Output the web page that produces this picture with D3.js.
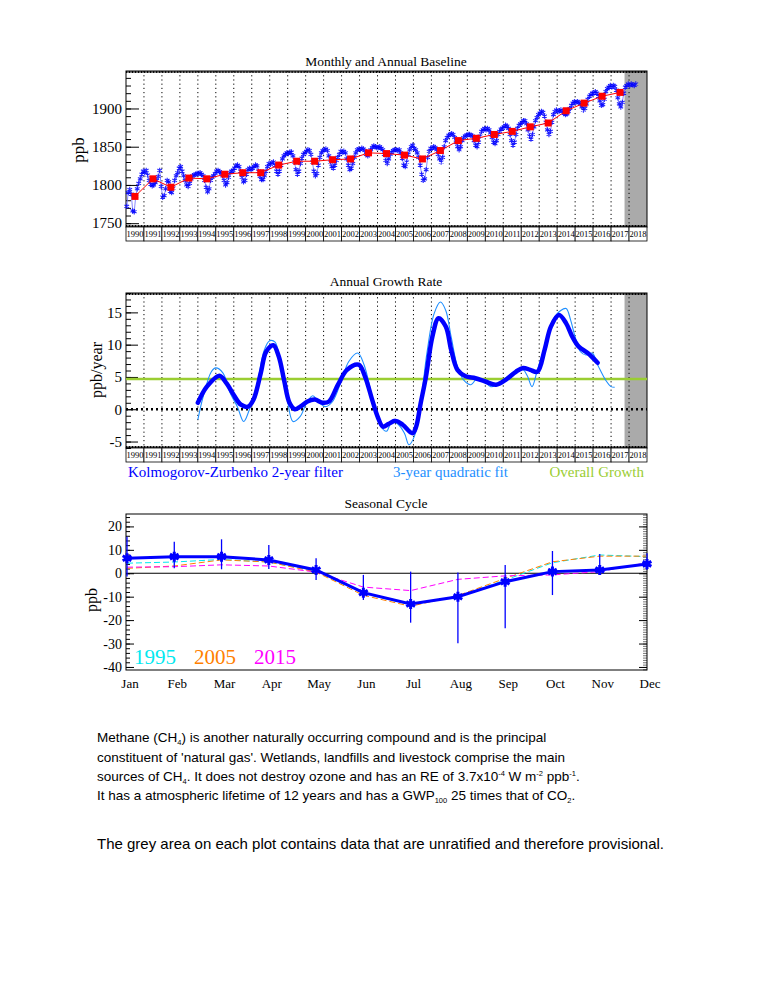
<!doctype html>
<html>
<head>
<meta charset="utf-8">
<script src="https://d3js.org/d3.v7.min.js"></script>
<style>
  body { margin: 0; background: #fff; }
  text { font-family: "Liberation Serif", "Times New Roman", serif; }
  .para { font-family: "Liberation Sans", Arial, sans-serif; }
</style>
</head>
<body>
<svg width="765" height="990"></svg>
<script>
// ---- data ----
const yearLabels = ["1990","1991","1992","1993","1994","1995","1996","1997","1998","1999","2000","2001","2002","2003","2004",
                    "2005","2006","2007","2008","2009","2010","2011","2012","2013","2014","2015","2016","2017","2018"];
const firstYear = 1990;
const provisionalFrom = 2017.75;

// monthly baseline (ppb), one row per year starting 1990
const monthly = [
  [1772,1790,1794,1788,1766,1765,1785,1795,1802,1808,1814,1818],
  [1816,1819,1813,1806,1801,1799,1800,1803,1806,1811,1819,1798],
  [1784,1786,1795,1806,1804,1792,1790,1796,1806,1812,1816,1822],
  [1824,1818,1812,1806,1800,1798,1802,1808,1812,1813,1814,1815],
  [1815,1816,1814,1812,1806,1797,1791,1795,1806,1810,1812,1815],
  [1818,1819,1817,1816,1812,1806,1800,1803,1810,1816,1818,1819],
  [1822,1825,1826,1824,1818,1810,1804,1806,1814,1820,1822,1820],
  [1822,1824,1826,1825,1818,1811,1807,1807,1812,1818,1824,1828],
  [1827,1829,1830,1826,1818,1814,1818,1826,1834,1838,1840,1842],
  [1841,1843,1843,1838,1830,1820,1814,1818,1828,1835,1840,1842],
  [1844,1846,1845,1840,1830,1818,1812,1815,1826,1836,1842,1845],
  [1846,1847,1845,1838,1830,1824,1822,1826,1832,1836,1840,1844],
  [1843,1844,1842,1834,1826,1820,1822,1828,1836,1842,1846,1847],
  [1846,1848,1847,1845,1840,1838,1842,1846,1849,1851,1850,1849],
  [1849,1850,1848,1846,1840,1832,1828,1834,1840,1843,1845,1846],
  [1846,1845,1846,1842,1835,1826,1824,1830,1840,1846,1850,1852],
  [1848,1846,1842,1836,1826,1814,1806,1808,1820,1836,1844,1848],
  [1848,1850,1849,1846,1840,1834,1830,1836,1850,1858,1862,1865],
  [1866,1867,1866,1862,1856,1850,1846,1850,1858,1862,1864,1865],
  [1866,1866,1865,1864,1858,1852,1850,1856,1864,1870,1872,1874],
  [1872,1874,1872,1868,1862,1856,1854,1858,1866,1870,1873,1874],
  [1876,1878,1877,1874,1866,1858,1852,1856,1866,1874,1878,1880],
  [1882,1884,1884,1880,1872,1864,1860,1866,1876,1884,1888,1892],
  [1894,1896,1895,1890,1882,1872,1866,1870,1882,1892,1896,1898],
  [1896,1897,1898,1896,1894,1892,1893,1896,1900,1904,1907,1909],
  [1908,1909,1908,1906,1902,1898,1900,1906,1912,1916,1918,1920],
  [1920,1922,1920,1916,1910,1904,1905,1912,1922,1926,1928,1930],
  [1928,1930,1929,1924,1914,1906,1902,1908,1920,1928,1930,1932],
  [1930,1932,1931,1930,1932]
];

// annual baseline means (ppb), 1990..2017, plotted mid-year
const annualMean = [1785,1808,1797,1809,1808,1814,1816,1816,1826,1831,1831,1833,1834,1842,
                    1841,1839,1834,1845,1858,1861,1866,1870,1876,1881,1897,1907,1916,1921];

// growth rate (ppb/yr): [decimal year, value]
const kzFilter = [
  [1994.0,1.0],[1994.5,3.5],[1995.2,5.2],[1995.6,4.0],[1996.0,2.2],[1996.4,0.7],[1996.8,0.4],[1997.1,1.5],
  [1997.5,5.6],[1997.8,8.9],[1998.2,9.9],[1998.5,8.2],[1998.8,4.5],[1999.1,1.0],[1999.4,0.0],[1999.7,0.4],
  [2000.1,1.2],[2000.5,1.5],[2000.95,1.0],[2001.3,1.2],[2001.8,3.8],[2002.3,6.1],[2002.95,6.9],[2003.3,5.1],
  [2003.7,1.5],[2004.0,-1.1],[2004.3,-2.7],[2004.6,-2.3],[2005.0,-1.8],[2005.4,-2.4],[2005.95,-3.7],
  [2006.15,-2.7],[2006.4,0.9],[2006.7,5.1],[2007.05,11.2],[2007.4,14.1],[2007.8,12.8],[2008.1,9.2],
  [2008.45,6.1],[2008.9,5.1],[2009.45,4.8],[2010.0,4.3],[2010.6,3.8],[2011.15,4.6],[2011.7,5.8],
  [2012.1,6.4],[2012.5,6.1],[2012.9,5.8],[2013.3,9.2],[2013.65,12.8],[2014.1,14.6],[2014.5,13.3],
  [2014.85,11.2],[2015.2,9.7],[2015.7,8.7],[2016.25,7.2]
];
const quadFit = [
  [1994.0,-1.6],[1994.3,2.0],[1994.75,5.8],[1995.0,6.4],[1995.4,5.6],[1995.8,2.5],[1996.2,0.4],[1996.55,-1.9],
  [1996.85,-0.2],[1997.3,4.0],[1997.7,9.2],[1998.0,10.6],[1998.3,10.4],[1998.55,7.6],[1998.9,3.0],[1999.3,-1.9],
  [1999.7,-1.1],[2000.05,1.0],[2000.4,2.1],[2000.7,1.2],[2001.1,0.4],[2001.5,1.2],[2002.0,4.5],[2002.4,7.4],
  [2002.9,8.7],[2003.25,6.9],[2003.7,2.0],[2004.2,-2.7],[2004.5,-3.4],[2004.8,-1.9],[2005.1,-2.2],[2005.5,-3.7],
  [2005.75,-5.5],[2006.05,-4.2],[2006.4,0.9],[2006.75,8.7],[2007.15,14.8],[2007.5,16.6],[2007.8,15.3],
  [2008.1,11.2],[2008.45,6.6],[2008.8,4.5],[2009.2,3.8],[2009.55,4.8],[2009.9,4.5],[2010.3,3.5],[2010.65,3.8],
  [2011.15,4.8],[2011.6,5.8],[2012.1,6.1],[2012.35,5.1],[2012.6,3.5],[2012.9,6.1],[2013.3,9.7],[2013.75,13.8],
  [2014.2,15.3],[2014.5,15.6],[2014.75,13.8],[2015.0,11.2],[2015.3,8.9],[2015.6,8.4],[2015.95,8.7],
  [2016.3,6.6],[2016.7,4.5],[2017.0,3.5],[2017.2,3.4]
];
const overallGrowth = 4.7;

// seasonal cycle (ppb)
const months = ["Jan","Feb","Mar","Apr","May","Jun","Jul","Aug","Sep","Oct","Nov","Dec"];
const seasonMean = [6.4, 7.1, 7.1, 5.7, 1.4, -8.3, -13.1, -10.0, -3.6, 0.7, 1.4, 4.0];
const seasonHigh = [15.6, 13.5, 14.5, 12.1, 6.4, -0.7, 0.7, 0.3, 3.5, 9.5, 8.2, 8.5];
const seasonLow  = [-1.4, 2.1, 1.7, 1.8, -2.9, -11.4, -21.1, -29.9, -23.5, -9.3, 0.2, 1.4];
const cycle1995 = [4.3, 4.8, 5.9, 4.8, 0.9, -8.7, -13.4, -10.0, -2.9, 4.5, 7.8, 7.1];
const cycle2005 = [2.1, 3.1, 5.7, 4.8, 0.5, -9.4, -14.1, -9.5, -2.2, 4.9, 7.3, 7.3];
const cycle2015 = [2.6, 2.8, 3.6, 3.1, 0.5, -5.9, -7.4, -2.6, -1.1, -0.7, 0.7, 4.5];

// ---- layout ----
const svg = d3.select("svg");
const X0 = 126, X1 = 647;
const x = d3.scaleLinear().domain([1990, 2019]).range([X0, X1]);
const BLUE = "#0000ff", LIGHTBLUE = "#1e8fff", GREEN = "#9acd32", GREY = "#aaaaaa";
const plain = d => String(d);

function yearFrame(top, bottom) {
  // grey provisional area
  svg.append("rect").attr("x", x(provisionalFrom)).attr("y", top)
     .attr("width", X1 - x(provisionalFrom)).attr("height", bottom - top).attr("fill", GREY);
  // dotted year lines
  svg.append("g").selectAll("line").data(yearLabels.slice(1)).join("line")
     .attr("x1", d => x(+d)).attr("x2", d => x(+d)).attr("y1", top).attr("y2", bottom)
     .attr("stroke", "#000").attr("stroke-width", 1).attr("stroke-dasharray", "1.2,3");
  // monthly ticks on top and bottom
  const monthTicks = d3.range(1990, 2019, 1 / 12);
  svg.append("g").attr("transform", `translate(0,${top})`)
     .call(d3.axisTop(x).tickValues(monthTicks).tickSize(-2).tickFormat(""))
     .call(g => g.select(".domain").remove());
  svg.append("g").attr("transform", `translate(0,${bottom})`)
     .call(d3.axisBottom(x).tickValues(monthTicks).tickSize(-2).tickFormat(""))
     .call(g => g.select(".domain").remove());
  svg.append("rect").attr("x", X0).attr("y", top).attr("width", X1 - X0).attr("height", bottom - top)
     .attr("fill", "none").attr("stroke", "#000").attr("stroke-width", 1);
  // year label band
  const band = svg.append("g");
  band.selectAll("rect").data(yearLabels).join("rect")
      .attr("x", d => x(+d)).attr("y", bottom).attr("width", x(firstYear + 1) - x(firstYear)).attr("height", 14)
      .attr("fill", "#fff").attr("stroke", "#000").attr("stroke-width", 0.8);
  band.selectAll("text").data(yearLabels).join("text")
      .attr("x", d => x(+d + 0.5)).attr("y", bottom + 10).attr("text-anchor", "middle")
      .attr("font-size", 8.5).text(d => d);
}

function yAxis(ySc, major, minor, majorLen, minorLen, size) {
  svg.append("g").attr("transform", `translate(${X0},0)`)
     .call(d3.axisLeft(ySc).tickValues(minor).tickSize(-minorLen).tickFormat(""))
     .call(g => g.select(".domain").remove());
  svg.append("g").attr("transform", `translate(${X0},0)`)
     .call(d3.axisLeft(ySc).tickValues(major).tickSize(-majorLen).tickPadding(4).tickFormat(plain))
     .call(g => g.select(".domain").remove())
     .call(g => g.selectAll("text").attr("font-size", size).attr("font-family", "Liberation Serif").attr("fill", "#000"));
}

function title(txt, y) {
  svg.append("text").attr("x", 386).attr("y", y).attr("text-anchor", "middle").attr("font-size", 13.5).text(txt);
}
function yLabel(txt, x0, y0, size) {
  svg.append("text").attr("transform", `translate(${x0},${y0}) rotate(-90)`)
     .attr("text-anchor", "middle").attr("font-size", size).text(txt);
}

// ---- 1. Monthly and Annual Baseline ----
const T0 = 71, T1 = 227;
const yTop = d3.scaleLinear().domain([1745, 1949]).range([T1, T0]);
title("Monthly and Annual Baseline", 66);
yearFrame(T0, T1);
yAxis(yTop, [1750, 1800, 1850, 1900], d3.range(1750, 1950, 10), 13, 5, 15);
yLabel("ppb", 84, 150, 17);

const monthPts = [];
monthly.forEach((row, i) => row.forEach((v, m) => monthPts.push([firstYear + i + (m + 0.5) / 12, v])));
const lineTop = d3.line().x(d => x(d[0])).y(d => yTop(d[1]));
svg.append("path").datum(monthPts).attr("d", lineTop).attr("fill", "none")
   .attr("stroke", "#6a6aff").attr("stroke-width", 0.8);
svg.append("g").selectAll("path").data(monthPts).join("path")
   .attr("transform", d => `translate(${x(d[0])},${yTop(d[1])})`)
   .attr("d", d3.symbol(d3.symbolAsterisk, 20))
   .attr("stroke", BLUE).attr("stroke-width", 1.1).attr("fill", "none").attr("stroke-opacity", 0.85);
const annPts = annualMean.map((v, i) => [firstYear + i + 0.5, v]);
svg.append("path").datum(annPts).attr("d", lineTop).attr("fill", "none").attr("stroke", "#ff0000").attr("stroke-width", 1);
svg.append("g").selectAll("rect").data(annPts).join("rect")
   .attr("x", d => x(d[0]) - 3.5).attr("y", d => yTop(d[1]) - 3.5).attr("width", 7).attr("height", 7).attr("fill", "#ff0000");

// ---- 2. Annual Growth Rate ----
const M0 = 293, M1 = 448;
const yMid = d3.scaleLinear().domain([-6, 18]).range([M1, M0]);
title("Annual Growth Rate", 286);
yearFrame(M0, M1);
yAxis(yMid, [-5, 0, 5, 10, 15], d3.range(-6, 19, 1), 12, 5, 15);
yLabel("ppb/year", 102, 370, 16);

svg.append("line").attr("x1", X0).attr("x2", X1).attr("y1", yMid(overallGrowth)).attr("y2", yMid(overallGrowth))
   .attr("stroke", GREEN).attr("stroke-width", 2.5);
svg.append("line").attr("x1", X0).attr("x2", X1).attr("y1", yMid(0)).attr("y2", yMid(0))
   .attr("stroke", "#000").attr("stroke-width", 2.5).attr("stroke-dasharray", "2,3");
const lineMid = d3.line().x(d => x(d[0])).y(d => yMid(d[1])).curve(d3.curveCatmullRom.alpha(0.5));
svg.append("path").datum(quadFit).attr("d", lineMid).attr("fill", "none").attr("stroke", LIGHTBLUE).attr("stroke-width", 1.1);
svg.append("path").datum(kzFilter).attr("d", lineMid).attr("fill", "none").attr("stroke", BLUE)
   .attr("stroke-width", 4.5).attr("stroke-linecap", "round").attr("stroke-linejoin", "round");

svg.append("text").attr("x", 128).attr("y", 477).attr("font-size", 15).attr("fill", BLUE).text("Kolmogorov-Zurbenko 2-year filter");
svg.append("text").attr("x", 393).attr("y", 477).attr("font-size", 15).attr("fill", LIGHTBLUE).text("3-year quadratic fit");
svg.append("text").attr("x", 644).attr("y", 477).attr("font-size", 15).attr("fill", GREEN).attr("text-anchor", "end").text("Overall Growth");

// ---- 3. Seasonal Cycle ----
const B0 = 514, B1 = 670;
const xm = d3.scalePoint().domain(months).range([X0 + 1, X1]);
const yBot = d3.scaleLinear().domain([-41.3, 25.3]).range([B1, B0]);
title("Seasonal Cycle", 508);
svg.append("g").attr("transform", `translate(${X0},0)`)
   .call(d3.axisLeft(yBot).tickValues(d3.range(-40, 26, 2)).tickSize(-4).tickFormat(""))
   .call(g => g.select(".domain").remove());
svg.append("g").attr("transform", `translate(${X0},0)`)
   .call(d3.axisLeft(yBot).tickValues([-40, -30, -20, -10, 0, 10, 20]).tickSize(-8).tickPadding(4).tickFormat(plain))
   .call(g => g.select(".domain").remove())
   .call(g => g.selectAll("text").attr("font-size", 14).attr("font-family", "Liberation Serif").attr("fill", "#000"));
svg.append("g").attr("transform", `translate(${X1},0)`)
   .call(d3.axisRight(yBot).tickValues(d3.range(-41, 26, 1)).tickSize(-4).tickFormat(""))
   .call(g => g.select(".domain").remove()).call(g => g.selectAll("line").attr("stroke", "#777"));
svg.append("g").attr("transform", `translate(${X1},0)`)
   .call(d3.axisRight(yBot).tickValues([-40, -30, -20, -10, 0, 10, 20]).tickSize(-8).tickFormat(""))
   .call(g => g.select(".domain").remove());
svg.append("rect").attr("x", X0).attr("y", B0).attr("width", X1 - X0).attr("height", B1 - B0)
   .attr("fill", "none").attr("stroke", "#000").attr("stroke-width", 1);
svg.append("line").attr("x1", X0).attr("x2", X1).attr("y1", yBot(0)).attr("y2", yBot(0)).attr("stroke", "#000").attr("stroke-width", 1.2);
yLabel("ppb", 97, 600, 16);

svg.append("g").selectAll("text").data(months).join("text")
   .attr("x", d => xm(d) + 3).attr("y", 688).attr("text-anchor", "middle").attr("font-size", 13).text(d => d);

const lineBot = d3.line().x((d, i) => xm(months[i])).y(d => yBot(d));
[[cycle1995, "#00e8f0"], [cycle2005, "#ff8000"], [cycle2015, "#ff00ff"]].forEach(([s, c]) => {
  svg.append("path").datum(s).attr("d", lineBot).attr("fill", "none").attr("stroke", c)
     .attr("stroke-width", 1).attr("stroke-dasharray", "6,3");
});
svg.append("g").selectAll("line").data(months).join("line")
   .attr("x1", d => xm(d)).attr("x2", d => xm(d))
   .attr("y1", (d, i) => yBot(seasonHigh[i])).attr("y2", (d, i) => yBot(seasonLow[i]))
   .attr("stroke", BLUE).attr("stroke-width", 1.3);
svg.append("path").datum(seasonMean).attr("d", lineBot).attr("fill", "none").attr("stroke", BLUE).attr("stroke-width", 3);
svg.append("g").selectAll("path").data(seasonMean).join("path")
   .attr("transform", (d, i) => `translate(${xm(months[i])},${yBot(d)})`)
   .attr("d", d3.symbol(d3.symbolAsterisk, 70)).attr("stroke", BLUE).attr("stroke-width", 3).attr("fill", "none");

svg.append("text").attr("x", 134).attr("y", 664).attr("font-size", 21).attr("fill", "#00e8f0").text("1995");
svg.append("text").attr("x", 194).attr("y", 664).attr("font-size", 21).attr("fill", "#ff8000").text("2005");
svg.append("text").attr("x", 254).attr("y", 664).attr("font-size", 21).attr("fill", "#ff00ff").text("2015");

// ---- description text ----
const para = [
  { y: 742, size: 13.5, parts: [["Methane (CH"], ["4", "sub"], [") is another naturally occurring compound and is the principal"]] },
  { y: 762, size: 13.5, parts: [["constituent of 'natural gas'. Wetlands, landfills and livestock comprise the main"]] },
  { y: 781, size: 13.5, parts: [["sources of CH"], ["4", "sub"], [". It does not destroy ozone and has an RE of 3.7x10"], ["-4", "sup"],
                    [" W m"], ["-2", "sup"], [" ppb"], ["-1", "sup"], ["."]] },
  { y: 800, size: 13.5, parts: [["It has a atmospheric lifetime of 12 years and has a GWP"], ["100", "sub"], [" 25 times that of CO"], ["2", "sub"], ["."]] },
  { y: 849, size: 15, parts: [["The grey area on each plot contains data that are unratified and therefore provisional."]] }
];
para.forEach(line => {
  const t = svg.append("text").attr("class", "para").attr("x", 97).attr("y", line.y).attr("font-size", line.size);
  let prev = null;
  line.parts.forEach(([s, kind]) => {
    const sp = t.append("tspan").text(s);
    if (kind === "sub") sp.attr("dy", 3).attr("font-size", 7.5);
    else if (kind === "sup") sp.attr("dy", -5).attr("font-size", 7.5);
    else if (prev === "sub") sp.attr("dy", -3);
    else if (prev === "sup") sp.attr("dy", 5);
    prev = kind || null;
  });
});
</script>
</body>
</html>
